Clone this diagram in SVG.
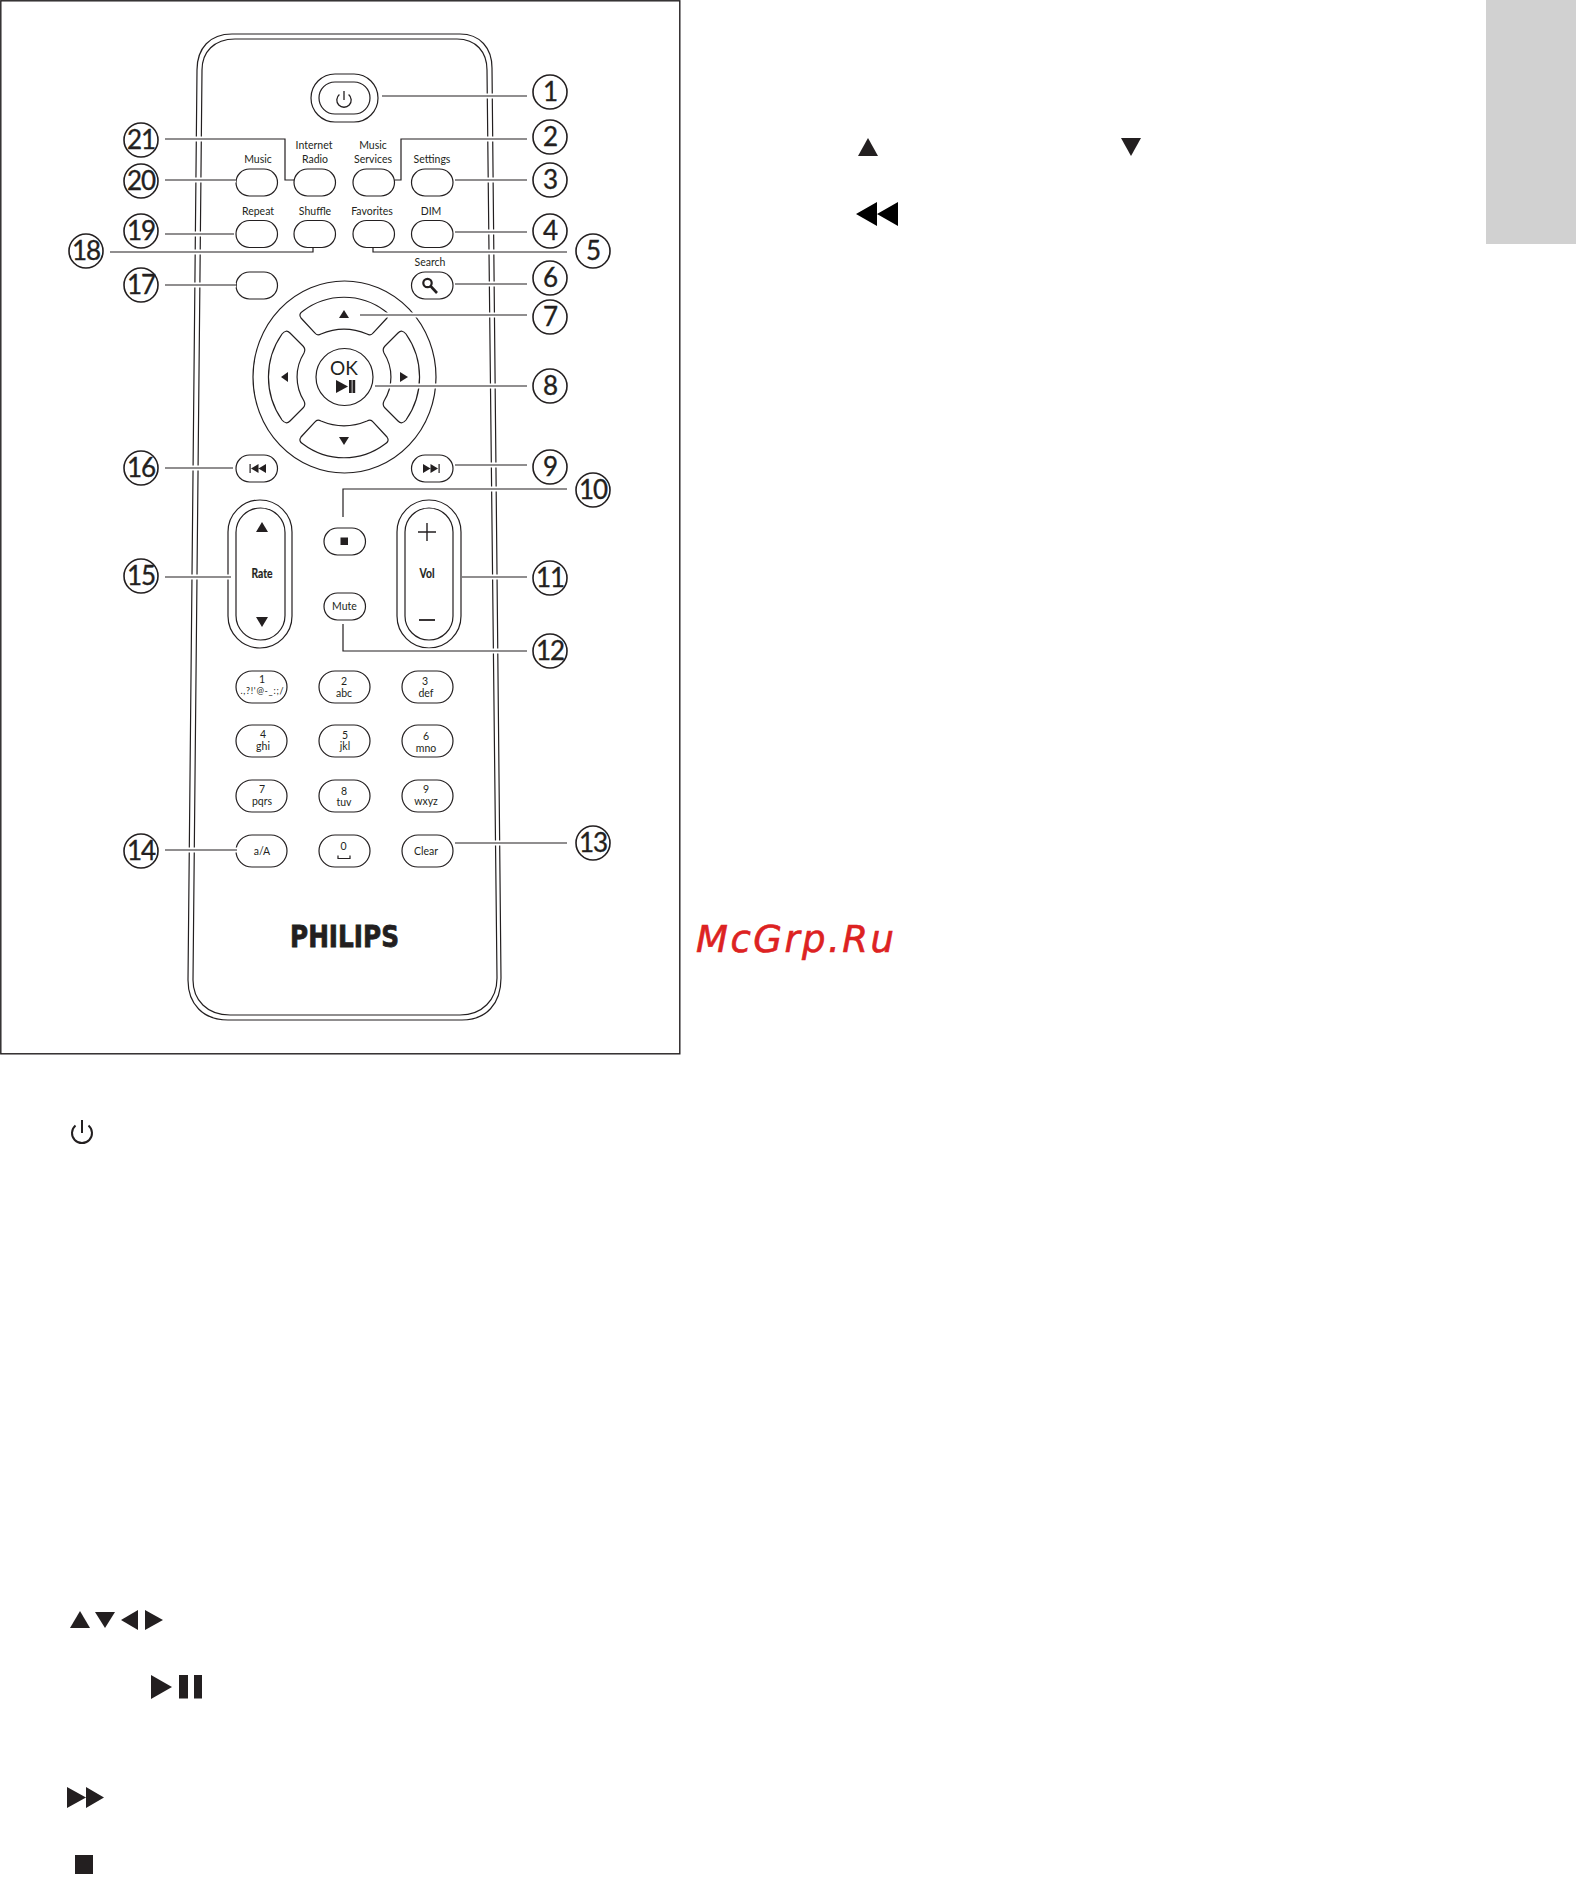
<svg xmlns="http://www.w3.org/2000/svg" width="1576" height="1877" viewBox="0 0 1576 1877">
<style>
text{font-family:"Lato","Open Sans","Liberation Sans",sans-serif;fill:#231f20;text-anchor:middle}
.o{fill:none;stroke:#231f20;stroke-width:1.2}
.f{fill:#231f20}
.k{fill:#000}
.lb{font-size:10.5px}
.d{font-size:10.5px}
.n{font-size:26px;letter-spacing:-1px;stroke:#231f20;stroke-width:.35}
.ci{fill:#fff;stroke:#231f20;stroke-width:1.6}
.halo{fill:none;stroke:#fff;stroke-width:5}
.ln{fill:none;stroke:#231f20;stroke-width:1.2}
.b{font-weight:700;font-size:13.500px;stroke:#231f20;stroke-width:.2}
</style>
<defs>
<rect id="sb" width="41.5" height="27" rx="13.5" class="o"/>
<rect id="kb" width="51" height="32" rx="16" class="o"/>
<path id="power" d="M-4.6,-5.5A7.2,7.2 0 1 0 4.6,-5.5M0,-9V0" fill="none" stroke="#231f20" stroke-width="1.3"/>
<path id="padT" class="o" d="M301,318Q298,314 303,311A68,68 0 0 1 385,311Q390,314 387,318L373,333Q371,336 367,334A59,59 0 0 0 321,334Q317,336 315,333Z"/>
<path id="padL" class="o" d="M282,334Q286,329 290,333L303,346Q306,349 304,353A45,45 0 0 0 304,401Q306,405 303,408L290,421Q286,425 282,420A75,75 0 0 1 282,334Z"/>
</defs>
<rect id="page" width="1576" height="1877" fill="#fff"/>
<rect id="tab" x="1486" y="0" width="90" height="244" fill="#d1d1d1"/>
<rect id="frame" x="0.8" y="0.8" width="679" height="1053" fill="none" stroke="#231f20" stroke-width="1.4"/>

<g id="remote-body">
<path class="o" d="M197,70C197,48 210,34 232,34L460,34C480,34 492,48 492,68L501,978C501,1004 486,1020 462,1020L228,1020C203,1020 188,1004 188,980Z"/>
<path class="o" d="M202,70C202,52 214,39 235,39L457,39C476,39 487,52 487,70L497,978C497,1000 482,1015 460,1015L230,1015C207,1015 193,1000 193,980Z"/>
</g>

<g id="btn-power">
<rect class="o" x="311" y="74" width="67" height="48" rx="24"/>
<rect class="o" x="319" y="82" width="51" height="32" rx="16"/>
<use href="#power" x="344" y="100"/>
</g>
<g id="btn-music"><use href="#sb" x="236" y="169"/><text class="lb" x="258" y="163">Music</text></g>
<g id="btn-internet-radio"><use href="#sb" x="294" y="169"/><text class="lb" x="314" y="149">Internet</text><text class="lb" x="315" y="163">Radio</text></g>
<g id="btn-music-services"><use href="#sb" x="353" y="169"/><text class="lb" x="373" y="149">Music</text><text class="lb" x="373" y="163">Services</text></g>
<g id="btn-settings"><use href="#sb" x="411.5" y="169"/><text class="lb" x="432" y="163">Settings</text></g>
<g id="btn-repeat"><use href="#sb" x="236" y="220.500"/><text class="lb" x="258" y="215">Repeat</text></g>
<g id="btn-shuffle"><use href="#sb" x="294" y="220.500"/><text class="lb" x="315" y="215">Shuffle</text></g>
<g id="btn-favorites"><use href="#sb" x="353" y="220.500"/><text class="lb" x="372" y="215">Favorites</text></g>
<g id="btn-dim"><use href="#sb" x="411.5" y="220.500"/><text class="lb" x="431" y="215">DIM</text></g>
<g id="btn-17"><use href="#sb" x="236" y="272"/></g>
<g id="btn-search"><use href="#sb" x="411.5" y="272"/><text class="lb" x="430" y="266">Search</text>
<circle cx="427.500" cy="283" r="4.200" fill="none" stroke="#231f20" stroke-width="2.200"/><path d="M430.500,286L437,293" stroke="#231f20" stroke-width="2.600" fill="none"/></g>

<g id="btn-dpad">
<ellipse class="o" cx="344.500" cy="377" rx="91.500" ry="96"/>
<use href="#padT"/>
<use href="#padT" transform="translate(0,755) scale(1,-1)"/>
<use href="#padL"/>
<use href="#padL" transform="translate(688,0) scale(-1,1)"/>
<path class="f" d="M344,310L349,318H339Z"/>
<path class="f" d="M344,445L349,437H339Z"/>
<path class="f" d="M281,377L288,372V382Z"/>
<path class="f" d="M408,377L400,372V382Z"/>
</g>
<g id="btn-ok">
<circle class="o" cx="344.500" cy="377" r="28.500"/>
<text x="344" y="375" font-size="19px">OK</text>
<path class="f" d="M336,380L348,386.500L336,393Z"/><rect class="f" x="349" y="380" width="2.700" height="13"/><rect class="f" x="352.500" y="380" width="2.700" height="13"/>
</g>
<g id="btn-prev"><use href="#sb" x="236" y="455"/><rect class="f" x="249.500" y="464" width="1.200" height="9"/><path class="f" d="M251,468.500L258.500,464V473ZM258.500,468.500L266,464V473Z"/></g>
<g id="btn-next"><use href="#sb" x="411.5" y="455"/><rect class="f" x="438.500" y="464" width="1.200" height="9"/><path class="f" d="M438,468.500L430.500,464V473ZM430.500,468.500L423,464V473Z"/></g>
<g id="btn-rate">
<rect class="o" x="228" y="500" width="64" height="148" rx="32"/>
<rect class="o" x="236" y="508" width="49" height="132" rx="24.500"/>
<path class="f" d="M262,522L268,532H256Z"/><path class="f" d="M262,627L268,617H256Z"/>
<text class="b" x="262" y="578" textLength="21" lengthAdjust="spacingAndGlyphs">Rate</text>
</g>
<g id="btn-vol">
<rect class="o" x="397" y="500" width="64" height="148" rx="32"/>
<rect class="o" x="405" y="508" width="48" height="132" rx="24"/>
<path class="o" d="M427,523V541M418,532H436" style="stroke-width:1.4"/>
<path class="o" d="M419,620H435" style="stroke-width:1.8"/>
<text class="b" x="427" y="578" textLength="15" lengthAdjust="spacingAndGlyphs">Vol</text>
</g>
<g id="btn-stop"><use href="#sb" x="324" y="528"/><rect class="f" x="340.500" y="537.500" width="7.500" height="7.500"/></g>
<g id="btn-mute"><use href="#sb" x="324" y="593"/><text class="lb" x="344.500" y="610">Mute</text></g>

<g id="key-1"><use href="#kb" x="236" y="671"/><text class="d" x="262" y="683">1</text><text x="262" y="693.500" font-size="9px" textLength="43">.,?!'@-_:;/</text></g>
<g id="key-2"><use href="#kb" x="319" y="671"/><text class="d" x="344" y="685">2</text><text class="d" x="344" y="697">abc</text></g>
<g id="key-3"><use href="#kb" x="402" y="671"/><text class="d" x="425" y="685">3</text><text class="d" x="426" y="697">def</text></g>
<g id="key-4"><use href="#kb" x="236" y="725"/><text class="d" x="263" y="738">4</text><text class="d" x="263" y="750">ghi</text></g>
<g id="key-5"><use href="#kb" x="319" y="725"/><text class="d" x="345" y="739">5</text><text class="d" x="345" y="750">jkl</text></g>
<g id="key-6"><use href="#kb" x="402" y="725"/><text class="d" x="426" y="740">6</text><text class="d" x="426" y="752">mno</text></g>
<g id="key-7"><use href="#kb" x="236" y="780"/><text class="d" x="262" y="793">7</text><text class="d" x="262" y="805">pqrs</text></g>
<g id="key-8"><use href="#kb" x="319" y="780"/><text class="d" x="344" y="795">8</text><text class="d" x="344" y="806">tuv</text></g>
<g id="key-9"><use href="#kb" x="402" y="780"/><text class="d" x="426" y="793">9</text><text class="d" x="426" y="805">wxyz</text></g>
<g id="key-a"><use href="#kb" x="236" y="835"/><text class="d" x="262" y="855">a/A</text></g>
<g id="key-0"><use href="#kb" x="319" y="835"/><text class="d" x="343.500" y="850">0</text><path class="o" d="M338,855.500V858.500H350V855.500"/></g>
<g id="key-clear"><use href="#kb" x="402" y="835"/><text class="d" x="426" y="855">Clear</text></g>

<text id="logo" x="344.500" y="947" font-size="30px" font-weight="700" textLength="109" lengthAdjust="spacingAndGlyphs" style="font-family:'DejaVu Sans',sans-serif;stroke:#231f20;stroke-width:.8">PHILIPS</text>
<text id="watermark" x="795" y="952" font-size="37px" font-style="oblique" textLength="198" lengthAdjust="spacing" style="font-family:'DejaVu Sans',sans-serif;fill:#dd2222;stroke:#dd2222;stroke-width:.6">McGrp.Ru</text>

<g id="connectors">
<g class="halos">
<path class="halo" d="M382,96H527"/><path class="halo" d="M527,139H401V180H396"/><path class="halo" d="M455,180H527"/><path class="halo" d="M455,232H527"/><path class="halo" d="M373,248V252H567"/><path class="halo" d="M455,284H527"/><path class="halo" d="M360,315H527"/><path class="halo" d="M375,386H527"/><path class="halo" d="M455,465H527"/><path class="halo" d="M343,517V489H567"/><path class="halo" d="M462,577H527"/><path class="halo" d="M343,624V651H527"/><path class="halo" d="M455,843H567"/><path class="halo" d="M165,850H237"/><path class="halo" d="M165,577H231"/><path class="halo" d="M165,468H233"/><path class="halo" d="M165,285H236"/><path class="halo" d="M110,252H313V248"/><path class="halo" d="M165,234H234"/><path class="halo" d="M165,180H236"/><path class="halo" d="M165,139H285V180H293"/>
</g>
<g class="lines">
<path class="ln" d="M382,96H527"/><path class="ln" d="M527,139H401V180H395"/><path class="ln" d="M455,180H527"/><path class="ln" d="M455,232H527"/><path class="ln" d="M373,247V252H567"/><path class="ln" d="M455,284H527"/><path class="ln" d="M360,315H527"/><path class="ln" d="M375,386H527"/><path class="ln" d="M455,465H527"/><path class="ln" d="M343,517V489H567"/><path class="ln" d="M462,577H527"/><path class="ln" d="M343,624V651H527"/><path class="ln" d="M455,843H567"/><path class="ln" d="M165,850H237"/><path class="ln" d="M165,577H231"/><path class="ln" d="M165,468H233"/><path class="ln" d="M165,285H237"/><path class="ln" d="M110,252H313V247"/><path class="ln" d="M165,234H234"/><path class="ln" d="M165,180H236"/><path class="ln" d="M165,139H285V180H294"/>
</g>
</g>

<g id="n1"><circle class="ci" cx="550" cy="92" r="17"/><text class="n" x="550" y="101">1</text></g>
<g id="n2"><circle class="ci" cx="550" cy="137" r="17"/><text class="n" x="550" y="146">2</text></g>
<g id="n3"><circle class="ci" cx="550" cy="180" r="17"/><text class="n" x="550" y="189">3</text></g>
<g id="n4"><circle class="ci" cx="550" cy="231" r="17"/><text class="n" x="550" y="240">4</text></g>
<g id="n5"><circle class="ci" cx="593" cy="251" r="17"/><text class="n" x="593" y="260">5</text></g>
<g id="n6"><circle class="ci" cx="550" cy="278" r="17"/><text class="n" x="550" y="287">6</text></g>
<g id="n7"><circle class="ci" cx="550" cy="317" r="17"/><text class="n" x="550" y="326">7</text></g>
<g id="n8"><circle class="ci" cx="550" cy="386" r="17"/><text class="n" x="550" y="395">8</text></g>
<g id="n9"><circle class="ci" cx="550" cy="467" r="17"/><text class="n" x="550" y="476">9</text></g>
<g id="n10"><circle class="ci" cx="593" cy="490" r="17"/><text class="n" x="593" y="499">10</text></g>
<g id="n11"><circle class="ci" cx="550" cy="578" r="17"/><text class="n" x="550" y="587">11</text></g>
<g id="n12"><circle class="ci" cx="550" cy="651" r="17"/><text class="n" x="550" y="660">12</text></g>
<g id="n13"><circle class="ci" cx="593" cy="843" r="17"/><text class="n" x="593" y="852">13</text></g>
<g id="n14"><circle class="ci" cx="141" cy="851" r="17"/><text class="n" x="141" y="860">14</text></g>
<g id="n15"><circle class="ci" cx="141" cy="576" r="17"/><text class="n" x="141" y="585">15</text></g>
<g id="n16"><circle class="ci" cx="141" cy="468" r="17"/><text class="n" x="141" y="477">16</text></g>
<g id="n17"><circle class="ci" cx="141" cy="285" r="17"/><text class="n" x="141" y="294">17</text></g>
<g id="n18"><circle class="ci" cx="86" cy="251" r="17"/><text class="n" x="86" y="260">18</text></g>
<g id="n19"><circle class="ci" cx="141" cy="231" r="17"/><text class="n" x="141" y="240">19</text></g>
<g id="n20"><circle class="ci" cx="141" cy="181" r="17"/><text class="n" x="141" y="190">20</text></g>
<g id="n21"><circle class="ci" cx="141" cy="140" r="17"/><text class="n" x="141" y="149">21</text></g>

<g id="icons">
<path class="f" d="M868,138L878,156H858Z"/>
<path class="f" d="M1131,156L1141,138H1121Z"/>
<path class="k" d="M856,214L877,202V226ZM877,214L898,202V226Z"/>
<path d="M75.500,1125.500A10,10 0 1 0 88.500,1125.500M82,1120V1133" fill="none" stroke="#231f20" stroke-width="2"/>
<path class="f" d="M80,1611L90,1628H70Z"/>
<path class="f" d="M105,1628L115,1612H95Z"/>
<path class="f" d="M121,1620L138,1610V1630Z"/>
<path class="f" d="M163,1620L145,1610V1630Z"/>
<path class="f" d="M151,1675L172,1687L151,1699Z"/>
<rect class="f" x="179" y="1675" width="9" height="23.500"/>
<rect class="f" x="194" y="1675" width="8" height="23.500"/>
<path class="f" d="M67,1787L86,1797.500L67,1808ZM86,1787L104,1797.500L86,1808Z"/>
<rect class="f" x="75" y="1855" width="18" height="19"/>
</g>
</svg>
